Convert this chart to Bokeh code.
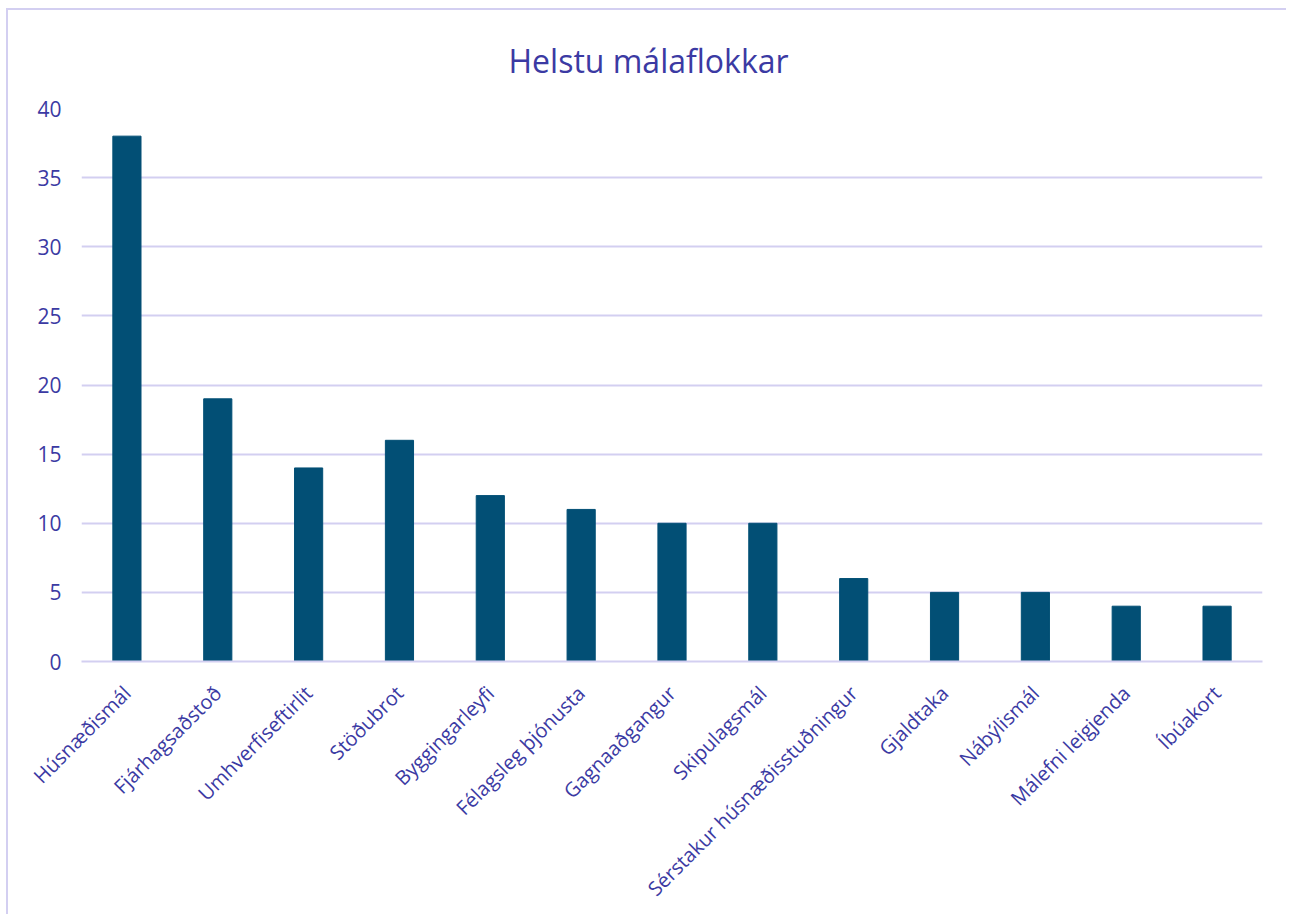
import math
from bokeh.plotting import figure
from bokeh.models import Range1d, FactorRange, FixedTicker, Title
from bokeh.embed import file_html
from bokeh.resources import INLINE

title_text = "Helstu málaflokkar"
categories = ["Húsnæðismál", "Fjárhagsaðstoð", "Umhverfiseftirlit", "Stöðubrot",
              "Byggingarleyfi", "Félagsleg þjónusta", "Gagnaaðgangur", "Skipulagsmál",
              "Sérstakur húsnæðisstuðningur", "Gjaldtaka", "Nábýlismál",
              "Málefni leigjenda", "Íbúakort"]
values = [38, 19, 14, 16, 12, 11, 10, 10, 6, 5, 5, 4, 4]
y_ticks = [0, 5, 10, 15, 20, 25, 30, 35, 40]

TEXT = "#3B3AA3"
GRID = "#D3CFF1"
BAR = "#024F75"
FONT = "Open Sans"

p = figure(x_range=FactorRange(*categories, range_padding=0), y_range=Range1d(0, 40),
           width=1280, height=906, output_backend="svg", toolbar_location=None,
           min_border_left=73, min_border_right=26, min_border_top=98, min_border_bottom=255)
p.styles = {"margin-left": "6px", "margin-top": "8px",
            "border-left": "2px solid " + GRID, "border-top": "2px solid " + GRID}

p.title = Title(text=title_text, align="left", text_color=TEXT,
                text_font=FONT, text_font_size="32px", text_font_style="normal",
                standoff=53, offset=427)

p.vbar(x=categories, top=values, width=0.31, color=BAR)

p.outline_line_color = None
p.xgrid.grid_line_color = None
p.ygrid.grid_line_color = GRID
p.ygrid.grid_line_width = 2
p.yaxis.ticker = FixedTicker(ticks=y_ticks)

p.yaxis.axis_line_color = None
p.yaxis.major_tick_line_color = None
p.yaxis.minor_tick_line_color = None
p.yaxis.major_label_standoff = 14
p.yaxis.major_label_text_font = FONT
p.yaxis.major_label_text_font_size = "21px"
p.yaxis.major_label_text_color = TEXT

p.xaxis.axis_line_color = GRID
p.xaxis.axis_line_width = 2
p.xaxis.major_tick_line_color = None
p.xaxis.minor_tick_line_color = None
p.xaxis.major_label_orientation = math.pi / 4
p.xaxis.major_label_standoff = 22
p.xaxis.major_label_text_font = FONT
p.xaxis.major_label_text_font_size = "20px"
p.xaxis.major_label_text_color = TEXT

open("out.html", "w").write(file_html(p, INLINE))
